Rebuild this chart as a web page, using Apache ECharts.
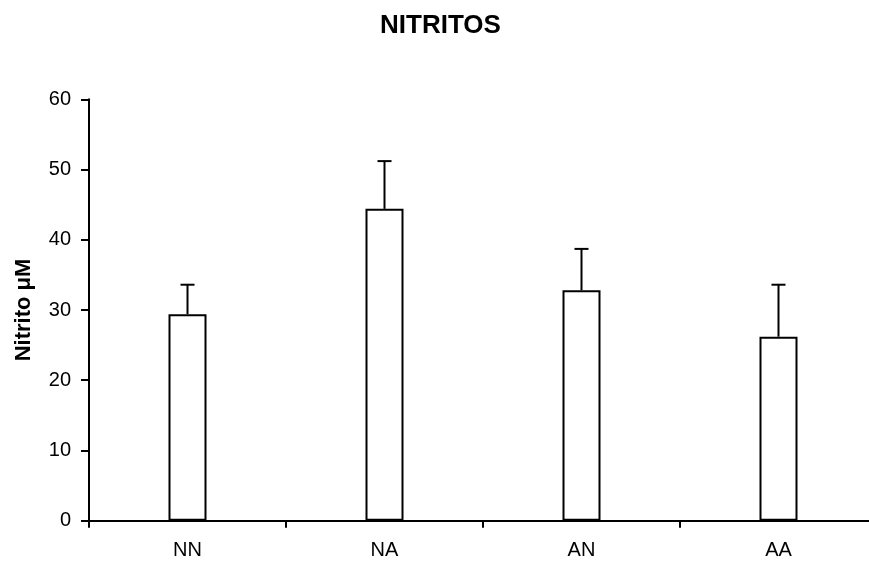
<!DOCTYPE html>
<html>
<head>
<meta charset="utf-8">
<script src="https://cdn.jsdelivr.net/npm/echarts@6/dist/echarts.min.js"></script>
<style>
html, body { margin: 0; padding: 0; background: #fff; }
#chart { width: 869px; height: 569px; }
</style>
</head>
<body>
<div id="chart"></div>
<script>
// datos
var categories = ['NN', 'NA', 'AN', 'AA'];
var means = [29.4, 44.4, 32.8, 26.2];
var upper = [33.6, 51.2, 38.7, 33.6];
var yTicks = [0, 10, 20, 30, 40, 50, 60];

var errData = categories.map(function (c, i) {
	return [i, means[i], upper[i]];
});

var chart = echarts.init(document.getElementById('chart'));

var option = {
	animation: false,
	title: {
		text: 'NITRITOS',
		left: 375,
		top: 8,
		textStyle: { fontFamily: 'Liberation Sans', fontSize: 26, fontWeight: 'bold', color: '#000' }
	},
	grid: { left: 89, right: -8, top: 99.3, bottom: 48.3, containLabel: false, outerBoundsMode: 'none' },
	xAxis: {
		type: 'category',
		data: categories,
		axisLine: { lineStyle: { color: '#000', width: 2 } },
		axisTick: { show: true, length: 7, lineStyle: { color: '#000', width: 2 } },
		axisLabel: { color: '#000', fontFamily: 'Liberation Sans', fontSize: 20, margin: 20 }
	},
	yAxis: {
		type: 'value',
		min: yTicks[0],
		max: yTicks[yTicks.length - 1],
		interval: 10,
		name: 'Nitrito μM',
		nameLocation: 'middle',
		nameGap: 54,
		nameTextStyle: { fontFamily: 'Liberation Sans', fontSize: 22, fontWeight: 'bold', color: '#000' },
		splitLine: { show: false },
		axisLine: { show: true, lineStyle: { color: '#000', width: 2 } },
		axisTick: { show: true, length: 8, lineStyle: { color: '#000', width: 2 } },
		axisLabel: { color: '#000', fontFamily: 'Liberation Sans', fontSize: 20, margin: 18 }
	},
	series: [
		{
			type: 'bar',
			data: means,
			barWidth: 38,
			itemStyle: { color: '#fff', borderColor: '#000', borderWidth: 2 }
		},
		{
			type: 'custom',
			data: errData,
			encode: { x: 0, y: [1, 2] },
			z: 3,
			renderItem: function (params, api) {
				var x = api.value(0);
				var p0 = api.coord([x, api.value(1)]);
				var p1 = api.coord([x, api.value(2)]);
				var half = 7;
				return {
					type: 'group',
					children: [
						{ type: 'line', shape: { x1: p0[0], y1: p0[1], x2: p1[0], y2: p1[1] }, style: { stroke: '#000', lineWidth: 2 } },
						{ type: 'line', shape: { x1: p1[0] - half, y1: p1[1], x2: p1[0] + half, y2: p1[1] }, style: { stroke: '#000', lineWidth: 2 } }
					]
				};
			}
		}
	]
};

chart.setOption(option);

window.onresize = function () {
	chart.resize();
};
</script>
</body>
</html>
